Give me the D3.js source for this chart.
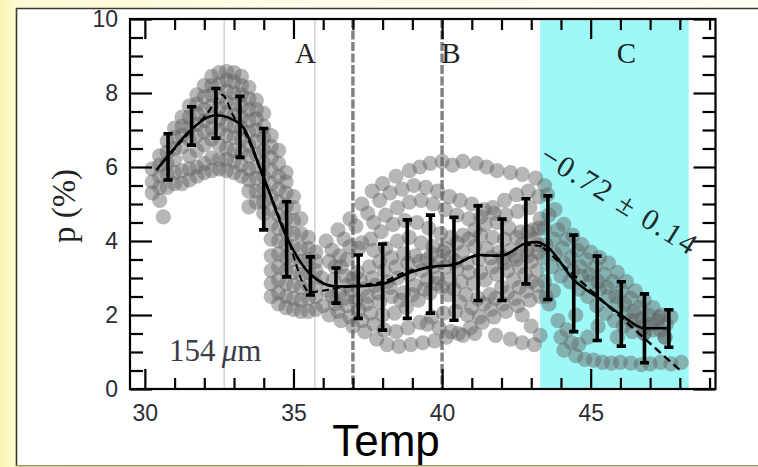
<!DOCTYPE html>
<html>
<head>
<meta charset="utf-8">
<script src="https://cdn.jsdelivr.net/npm/d3@7"></script>
<style>
  html, body { margin: 0; padding: 0; background: #fffef4; }
  svg { display: block; }
</style>
</head>
<body>
<svg id="chart" width="758" height="467"></svg>
<script>
// ---- Polarization p (%) versus temperature, 154 µm band ----

// Rising/falling hump below 36: measurements listed per temperature column, [temp, [p...]]
const humpColumns = [
  [30.25, [5.3, 5.6, 5.95]],
  [30.5,  [5.1, 5.45, 5.75, 6.05, 6.3]],
  [30.62, [4.65]],
  [30.75, [5.45, 5.8, 6.1, 6.4, 6.7]],
  [31.0,  [5.55, 5.85, 6.2, 6.5, 6.8, 7.05]],
  [31.25, [5.55, 5.9, 6.55, 6.85, 7.1, 7.35]],
  [31.5,  [5.65, 5.95, 6.3, 6.75, 7.05, 7.35, 7.65]],
  [31.75, [5.75, 6.0, 6.45, 6.85, 7.15, 7.45, 7.7, 7.95]],
  [32.0,  [5.85, 6.1, 6.6, 6.95, 7.25, 7.55, 7.9, 8.2]],
  [32.25, [5.9, 6.25, 6.75, 7.05, 7.35, 7.65, 7.95, 8.2, 8.45]],
  [32.5,  [5.95, 6.2, 6.6, 7.0, 7.3, 7.6, 7.9, 8.25, 8.55]],
  [32.75, [5.9, 6.2, 6.5, 6.85, 7.15, 7.45, 7.75, 8.05, 8.35, 8.58]],
  [33.0,  [5.85, 6.15, 6.45, 6.8, 7.1, 7.4, 7.7, 8.0, 8.3, 8.55]],
  [33.25, [5.75, 6.05, 6.4, 6.75, 7.05, 7.35, 7.65, 7.95, 8.2, 8.45]],
  [33.5,  [4.92, 5.35, 5.65, 5.95, 6.3, 6.6, 6.95, 7.25, 7.55, 7.85, 8.15]],
  [33.75, [5.05, 5.35, 5.7, 6.0, 6.35, 6.7, 7.0, 7.3, 7.55, 7.8]],
  [34.0,  [4.75, 5.05, 5.4, 5.75, 6.1, 6.45, 6.8, 7.1, 7.45]],
  [34.25, [2.5, 2.85, 3.2, 3.6, 4.05, 4.45, 4.85, 5.2, 5.55, 5.9, 6.25, 6.55, 6.85]],
  [34.5,  [2.3, 2.6, 2.95, 3.3, 3.65, 4.0, 4.35, 4.7, 5.05, 5.4, 5.75, 6.1, 6.45]],
  [34.75, [2.2, 2.5, 2.85, 3.2, 3.55, 3.9, 4.25, 4.6, 4.95, 5.3, 5.6, 5.85]],
  [35.0,  [2.15, 2.45, 2.8, 3.15, 3.5, 3.85, 4.2, 4.55, 4.9, 5.2]],
  [35.25, [2.1, 2.4, 2.75, 3.1, 3.45, 3.8, 4.2, 4.6]],
  [35.5,  [2.1, 2.45, 2.8, 3.15, 3.5, 3.8, 4.1]],
  [35.75, [2.15, 2.5, 2.85, 3.2, 3.45, 3.7]]
];

// Plateau between 36 and 43.3: individual measurements along each band, [temp, p]
const plateauA = [[36.1,4.0],[36.5,4.3],[36.9,4.6],[37.3,5.0],[37.65,5.35],[38.0,5.55],[38.45,5.75],[38.9,5.9],[39.25,6.0],[39.6,6.1],[40.0,6.15],[40.35,6.05],[40.7,6.15],[41.15,6.1],[41.5,6.0],[41.85,5.9],[42.3,5.85],[42.7,5.8],[43.15,5.7],[43.45,5.5]];
const plateauB = [[36.3,3.75],[36.7,4.05],[37.1,4.4],[37.5,4.75],[37.9,5.1],[38.25,5.3],[38.65,5.4],[39.05,5.5],[39.45,5.45],[39.85,5.35],[40.25,5.2],[40.6,5.1],[41.0,5.0],[41.4,4.85],[41.75,4.75],[42.15,4.7],[42.55,4.8],[42.95,4.9],[43.3,4.6]];
const plateauC = [[36.4,3.3],[36.8,3.5],[37.2,3.8],[37.6,4.05],[37.95,4.25],[38.35,4.45],[38.75,4.55],[39.15,4.5],[39.55,4.35],[39.95,4.2],[40.3,4.1],[40.7,4.15],[41.1,4.3],[41.45,4.45],[41.85,4.5],[42.25,4.35],[42.65,4.25],[43.05,4.3]];
const plateauD = [[35.95,3.0],[36.35,2.95],[36.75,3.05],[37.15,3.15],[37.55,3.3],[37.9,3.45],[38.3,3.55],[38.7,3.65],[39.1,3.6],[39.5,3.5],[39.9,3.45],[40.3,3.55],[40.7,3.7],[41.1,3.85],[41.5,3.8],[41.9,3.7],[42.3,3.75],[42.7,3.9],[43.1,4.05]];
const plateauE = [[36.15,2.65],[36.55,2.6],[36.95,2.65],[37.35,2.7],[37.75,2.8],[38.15,2.9],[38.5,3.0],[38.9,3.1],[39.3,3.2],[39.7,3.3],[40.1,3.3],[40.5,3.25],[40.9,3.15],[41.3,3.15],[41.7,3.3],[42.1,3.4],[42.5,3.5],[42.9,3.6],[43.25,3.7]];
const plateauF = [[36.0,2.25],[36.4,2.3],[36.8,2.25],[37.2,2.15],[37.6,2.05],[38.0,2.0],[38.4,2.05],[38.8,2.2],[39.2,2.4],[39.6,2.6],[40.0,2.75],[40.4,2.7],[40.8,2.55],[41.2,2.45],[41.6,2.55],[42.0,2.75],[42.4,2.95],[42.8,3.1],[43.2,3.2]];
const plateauG = [[36.2,2.0],[36.6,1.85],[37.0,1.7],[37.4,1.55],[37.8,1.35],[38.15,1.2],[38.55,1.15],[38.95,1.2],[39.35,1.25],[39.75,1.3],[40.15,1.4],[40.55,1.5],[40.95,1.65],[41.35,1.8],[41.75,1.95],[42.15,2.1],[42.55,2.25],[42.95,2.4],[43.3,2.5]];
const plateauH = [[39.5,1.75],[39.9,1.65],[40.3,1.55],[40.7,1.45],[41.1,1.5],[41.8,1.45],[42.3,1.35],[42.7,1.25],[43.1,1.2]];
const plateauI = [[36.6,3.3],[37.0,3.0],[37.5,2.5],[37.9,2.35],[38.3,2.5],[38.7,2.6],[39.1,2.8],[39.5,2.95],[39.85,3.0],[40.25,2.95],[40.65,2.9],[41.05,2.85],[41.45,2.95],[41.85,3.1],[42.2,3.2],[42.6,3.3],[43.0,3.45]];
const plateauJ = [[36.2,3.45],[36.55,3.6],[36.9,3.85],[37.3,3.95],[37.7,3.75],[38.1,3.8],[38.5,4.0],[38.9,4.1],[39.3,3.95],[39.7,3.85],[40.1,3.8],[40.5,3.95],[40.9,4.05],[41.3,4.15],[41.7,4.1],[42.1,4.05],[42.5,4.1],[42.9,4.25],[43.25,4.35]];
const plateauK = [[36.3,2.5],[36.7,2.45],[37.1,2.4],[37.45,2.3],[37.85,2.6],[38.25,2.75],[38.6,2.4],[39.0,2.55],[39.4,2.7],[39.8,2.85],[40.2,2.55],[40.6,2.35],[41.0,2.2],[41.4,2.3],[41.8,2.45],[42.2,2.6],[42.6,2.75],[43.0,2.9]];
const plateauL = [[36.5,2.1],[36.9,1.95],[37.3,1.85],[37.7,1.75],[38.05,1.6],[38.45,1.55],[38.85,1.65],[39.25,1.8],[39.65,1.95],[40.05,2.05],[40.45,2.1],[40.85,2.0],[41.25,1.95],[41.65,2.15],[42.05,2.3],[42.45,2.45],[42.85,2.65],[43.2,2.8]];
const plateauM = [[36.8,2.8],[37.25,2.95],[37.65,3.0],[38.05,3.2],[38.45,3.3],[38.85,3.4],[39.25,3.45],[39.65,3.65],[40.05,3.7],[40.45,3.45],[40.85,3.4],[41.25,3.5],[41.65,3.55],[42.05,3.55],[42.45,3.6],[42.85,3.75],[43.2,3.9]];
const plateauN = [[37.7,4.5],[38.1,4.7],[38.5,4.9],[38.9,5.05],[39.3,5.1],[39.7,5.0],[40.1,4.85],[40.5,4.7],[40.9,4.6],[41.3,4.65],[41.7,4.9],[42.1,5.1],[42.5,5.25],[42.9,5.35],[43.25,5.2]];

// Decline in zone C, [temp, p]
const declineA = [[43.55,5.25],[43.8,4.85],[44.1,4.45],[44.4,4.15],[44.7,3.9],[45.0,3.7],[45.3,3.55],[45.6,3.4],[45.9,3.15],[46.2,2.9],[46.5,2.65],[46.8,2.4],[47.1,2.2],[47.4,2.0],[47.7,1.95]];
const declineB = [[43.45,4.35],[43.75,4.05],[44.05,3.8],[44.35,3.55],[44.65,3.3],[44.95,3.1],[45.25,2.9],[45.55,2.75],[45.85,2.5],[46.15,2.3],[46.45,2.1],[46.75,1.9],[47.05,1.75],[47.35,1.6]];
const declineC = [[43.4,3.55],[43.7,3.3],[44.0,3.05],[44.3,2.9],[44.6,2.7],[44.9,2.5],[45.2,2.25],[45.5,2.05],[45.8,1.85],[46.1,1.7],[46.4,1.55],[46.8,1.5],[47.5,1.4]];
const declineD = [[42.7,2.0],[43.0,1.7],[43.3,1.45],[43.6,2.3],[43.9,1.85],[44.0,1.4],[44.1,1.05],[44.5,0.9],[44.8,0.8],[45.1,0.78],[45.4,0.72],[45.7,0.7],[46.0,0.72],[46.35,0.7],[46.7,0.66],[47.0,0.68],[47.35,0.72],[47.7,0.68],[48.05,0.72]];
const declineE = [[44.9,1.4],[45.25,1.7],[45.9,1.4],[46.35,1.85],[46.8,1.5],[47.3,1.95],[47.5,1.4]];
const declineF = [[43.5,3.9],[43.8,3.65],[44.1,3.4],[44.4,3.2],[44.7,3.05],[45.0,2.9],[45.3,2.7],[45.6,2.5],[45.9,2.3],[46.2,2.05],[46.5,1.85],[46.8,1.7],[47.1,1.6]];
const declineG = [[43.6,4.7],[43.9,4.3],[44.2,4.05],[44.55,3.75],[44.85,3.5],[45.15,3.3],[45.45,3.1],[45.75,2.9],[46.05,2.65],[46.35,2.45],[46.65,2.2],[46.95,2.0],[47.25,1.85],[47.55,1.75]];
const declineH = [[43.45,2.9],[43.5,2.5],[43.75,2.65],[44.2,1.6],[44.35,1.25],[44.6,1.2],[44.5,2.0]];

// Binned mean with spread (error bars)
const binTemp = [30.78,31.57,32.39,33.2,34.0,34.77,35.57,36.43,37.18,38.0,38.83,39.61,40.4,41.21,42.02,42.82,43.56,44.43,45.22,46.03,46.81,47.63];
const binLow  = [5.65,6.59,6.78,6.26,4.3,3.03,2.54,2.32,1.91,1.59,1.91,2.05,1.86,2.39,2.39,2.84,2.42,1.55,1.31,1.16,0.71,1.13];
const binHigh = [6.9,7.63,8.12,7.91,7.04,5.06,3.57,3.27,3.62,3.92,4.57,4.70,4.64,4.95,4.59,5.14,5.22,4.16,3.59,2.9,2.57,2.14];

// Running mean (solid) and smoothed trend (dashed)
const meanCurve = [[30.39,5.92],[30.78,6.3],[31.57,7.02],[32.39,7.4],[33.2,7.17],[34.0,5.7],[34.77,4.1],[35.57,3.1],[36.43,2.77],[37.18,2.78],[38.0,2.84],[38.83,3.12],[39.61,3.3],[40.4,3.36],[41.21,3.62],[42.02,3.6],[42.82,3.94],[43.2,3.97],[43.56,3.83],[44.43,2.95],[45.22,2.48],[46.03,2.0],[46.81,1.64],[47.63,1.64]];
const trendCurve = [[30.39,5.92],[30.78,6.28],[31.57,7.0],[32.1,7.45],[32.45,7.85],[32.6,7.95],[33.0,7.35],[33.2,7.15],[34.0,5.7],[34.77,4.15],[35.55,2.62],[36.43,2.72],[37.18,2.8],[38.0,2.9],[38.83,3.18],[39.61,3.28],[40.4,3.38],[41.21,3.6],[42.02,3.62],[42.82,3.9],[43.4,3.85]];

// Linear fit over zone C
const fitSlope = -0.72;
const fitError = 0.14;
const fitTemps = [43.4, 48.0];
const fitEndValue = 0.51;   // p at the upper temperature end

// Zones and guides
const zoneCBounds = [43.3, 48.3];
const thinGuides = [32.67, 35.72];
const dashedGuides = [37.0, 40.0];
const zoneNames = ["A", "B", "C"];
const zoneNameTemps = [35.4, 40.3, 46.2];

// Axis ticks
const xMajor = [30, 35, 40, 45];
const xMinor = [31, 32, 33, 34, 36, 37, 38, 39, 41, 42, 43, 44, 46, 47, 48, 49];
const yMajor = [0, 2, 4, 6, 8, 10];
const yMinor = [0.5, 1, 1.5, 2.5, 3, 3.5, 4.5, 5, 5.5, 6.5, 7, 7.5, 8.5, 9, 9.5];

const W = 758, H = 467;
const plot = { left: 130, right: 715.5, top: 19, bottom: 389 };

const x = d3.scaleLinear().domain([29.5, 49.2]).range([plot.left, plot.right]);
const y = d3.scaleLinear().domain([0, 10]).range([plot.bottom, plot.top]);

const svg = d3.select("#chart");

// page background and framed panel
const defs = svg.append("defs");
const paper = defs.append("linearGradient").attr("id", "paper")
  .attr("x1", 0).attr("x2", 1).attr("y1", 0).attr("y2", 0);
paper.append("stop").attr("offset", 0).attr("stop-color", "#fbf6b2");
paper.append("stop").attr("offset", 0.025).attr("stop-color", "#fefbd4");
paper.append("stop").attr("offset", 0.4).attr("stop-color", "#fffde9");
paper.append("stop").attr("offset", 1).attr("stop-color", "#fffef3");
svg.append("rect").attr("width", W).attr("height", H).attr("fill", "url(#paper)");
svg.append("rect").attr("x", 16).attr("y", 8).attr("width", W).attr("height", 458).attr("fill", "#ffffff");
svg.append("path").attr("d", "M16.5,466 V8.5 H758")
  .attr("fill", "none").attr("stroke", "#3a392b").attr("stroke-width", 1.6);
svg.append("line").attr("x1", 16).attr("x2", W).attr("y1", 465.8).attr("y2", 465.8)
  .attr("stroke", "#9b985e").attr("stroke-width", 1.6);

// zone C shading
svg.append("rect")
  .attr("x", x(zoneCBounds[0])).attr("y", plot.top)
  .attr("width", x(zoneCBounds[1]) - x(zoneCBounds[0]))
  .attr("height", plot.bottom - plot.top)
  .attr("fill", "#9ef8f8");

// guide lines
svg.selectAll("line.thin").data(thinGuides).join("line").attr("class", "thin")
  .attr("x1", d => x(d)).attr("x2", d => x(d))
  .attr("y1", plot.top).attr("y2", plot.bottom)
  .attr("stroke", "#cfcfcf").attr("stroke-width", 1.4);
svg.selectAll("line.dash").data(dashedGuides).join("line").attr("class", "dash")
  .attr("x1", d => x(d)).attr("x2", d => x(d))
  .attr("y1", plot.top).attr("y2", plot.bottom)
  .attr("stroke", "#808080").attr("stroke-width", 3.4).attr("stroke-dasharray", "9,2.5");

// measurement cloud
const humpPoints = humpColumns.flatMap(([t, ps]) => ps.map(p => [t, p]));
const cloud = [].concat(humpPoints,
  plateauA, plateauB, plateauC, plateauD, plateauE, plateauF, plateauG,
  plateauH, plateauI, plateauJ, plateauK, plateauL, plateauM, plateauN,
  declineA, declineB, declineC, declineD, declineE, declineF, declineG, declineH);
svg.append("g").selectAll("circle").data(cloud).join("circle")
  .attr("cx", d => x(d[0])).attr("cy", d => y(d[1])).attr("r", 7.6)
  .attr("fill", "#646464").attr("fill-opacity", 0.47);

// mean and trend curves
svg.append("path").datum(meanCurve)
  .attr("d", d3.line().x(d => x(d[0])).y(d => y(d[1])).curve(d3.curveMonotoneX))
  .attr("fill", "none").attr("stroke", "#000").attr("stroke-width", 2.6).attr("stroke-linejoin", "round");
svg.append("path").datum(trendCurve)
  .attr("d", d3.line().x(d => x(d[0])).y(d => y(d[1])).curve(d3.curveMonotoneX))
  .attr("fill", "none").attr("stroke", "#000").attr("stroke-width", 2).attr("stroke-dasharray", "7,4");

// linear fit over zone C, drawn from the fitted slope
const fitLine = fitTemps.map(t => [t, fitEndValue + fitSlope * (t - fitTemps[1])]);
svg.append("path").datum(fitLine)
  .attr("d", d3.line().x(d => x(d[0])).y(d => y(d[1])))
  .attr("fill", "none").attr("stroke", "#000").attr("stroke-width", 2.4).attr("stroke-dasharray", "8,4.5");

// error bars
const bins = binTemp.map((t, i) => ({ t, lo: binLow[i], hi: binHigh[i] }));
const eb = svg.append("g").attr("stroke", "#000").attr("stroke-width", 3.6).attr("fill", "none");
eb.selectAll("path").data(bins).join("path")
  .attr("d", d => {
    const cx = x(d.t), y0 = y(d.lo), y1 = y(d.hi), c = 4.6;
    return `M${cx},${y0}V${y1}M${cx - c},${y1}H${cx + c}M${cx - c},${y0}H${cx + c}`;
  });

// axes with inward ticks on all four sides
const labelFont = "'Liberation Sans', Arial, sans-serif";
function styleAxis(g, labels) {
  g.select(".domain").remove();
  g.selectAll(".tick line").attr("stroke", "#000").attr("stroke-width", 2.2);
  g.selectAll(".tick text")
    .attr("font-family", labelFont).attr("font-size", 23).attr("fill", "#2c2c34");
  if (!labels) g.selectAll(".tick text").remove();
}
svg.append("g").attr("transform", `translate(0,${plot.bottom})`)
  .call(d3.axisBottom(x).tickValues(xMajor).tickSize(-20).tickPadding(16).tickFormat(d3.format("d")))
  .call(g => styleAxis(g, true));
svg.append("g").attr("transform", `translate(0,${plot.bottom})`)
  .call(d3.axisBottom(x).tickValues(xMinor).tickSize(-11).tickFormat(""))
  .call(g => styleAxis(g, false));
svg.append("g").attr("transform", `translate(0,${plot.top})`)
  .call(d3.axisTop(x).tickValues(xMajor).tickSize(-20).tickFormat(""))
  .call(g => styleAxis(g, false));
svg.append("g").attr("transform", `translate(0,${plot.top})`)
  .call(d3.axisTop(x).tickValues(xMinor).tickSize(-11).tickFormat(""))
  .call(g => styleAxis(g, false));
svg.append("g").attr("transform", `translate(${plot.left},0)`)
  .call(d3.axisLeft(y).tickValues(yMajor).tickSize(-22).tickPadding(12).tickFormat(d3.format("d")))
  .call(g => styleAxis(g, true));
svg.append("g").attr("transform", `translate(${plot.left},0)`)
  .call(d3.axisLeft(y).tickValues(yMinor).tickSize(-13).tickFormat(""))
  .call(g => styleAxis(g, false));
svg.append("g").attr("transform", `translate(${plot.right},0)`)
  .call(d3.axisRight(y).tickValues(yMajor).tickSize(-22).tickFormat(""))
  .call(g => styleAxis(g, false));
svg.append("g").attr("transform", `translate(${plot.right},0)`)
  .call(d3.axisRight(y).tickValues(yMinor).tickSize(-13).tickFormat(""))
  .call(g => styleAxis(g, false));

svg.append("rect")
  .attr("x", plot.left).attr("y", plot.top)
  .attr("width", plot.right - plot.left).attr("height", plot.bottom - plot.top)
  .attr("fill", "none").attr("stroke", "#000").attr("stroke-width", 2.2);

// annotations
const serif = "'Liberation Serif', 'Times New Roman', serif";
svg.selectAll("text.zone").data(zoneNames).join("text").attr("class", "zone")
  .attr("x", (d, i) => x(zoneNameTemps[i])).attr("y", 63)
  .attr("text-anchor", "middle")
  .attr("font-family", serif).attr("font-size", 29).attr("fill", "#222")
  .text(d => d);

const band = svg.append("text").attr("x", 169).attr("y", 361)
  .attr("font-family", serif).attr("font-size", 31).attr("fill", "#3b3b4a");
band.append("tspan").text("154\u2009");
band.append("tspan").attr("font-style", "italic").text("\u03bc");
band.append("tspan").text("m");

const fmt = v => (v < 0 ? "\u2212" : "") + Math.abs(v).toFixed(2);
svg.append("text")
  .attr("transform", "translate(538,161) rotate(32)")
  .attr("font-family", serif).attr("font-size", 30).attr("fill", "#1f2a2a")
  .attr("textLength", 178).attr("lengthAdjust", "spacing")
  .text(`${fmt(fitSlope)} \u00b1 ${fitError.toFixed(2)}`);

svg.append("text")
  .attr("transform", "translate(75,206) rotate(-90)")
  .attr("text-anchor", "middle")
  .attr("font-family", serif).attr("font-size", 33).attr("fill", "#222")
  .text("p (%)");

svg.append("text")
  .attr("x", 386).attr("y", 456).attr("text-anchor", "middle")
  .attr("font-family", labelFont).attr("font-size", 44).attr("fill", "#000")
  .text("Temp");
</script>
</body>
</html>
